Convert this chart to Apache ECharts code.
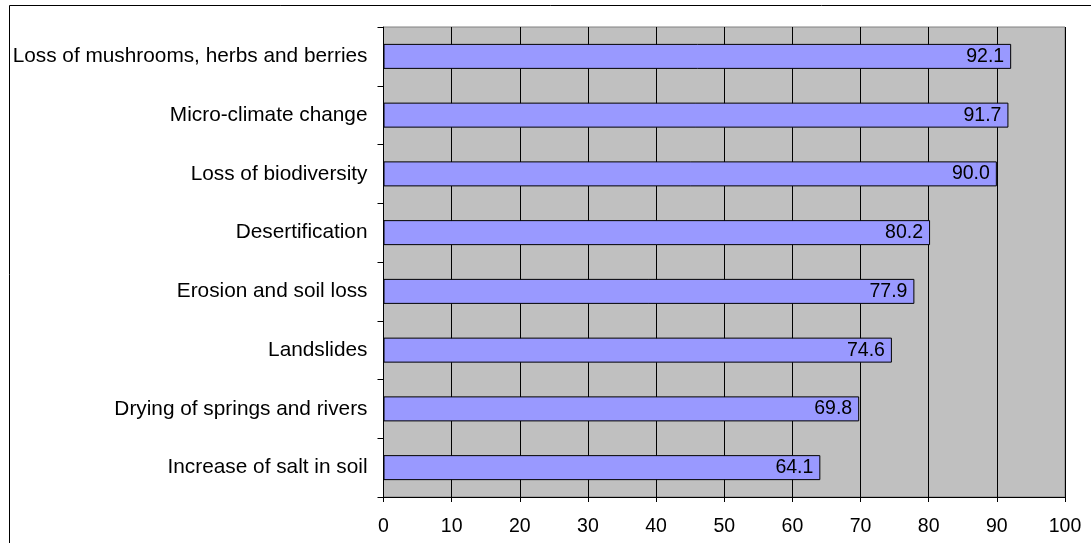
<!DOCTYPE html>
<html>
<head>
<meta charset="utf-8">
<script src="https://cdn.jsdelivr.net/npm/echarts@6/dist/echarts.min.js"></script>
<style>
  html, body { margin: 0; padding: 0; background: #fff; }
  #chart { width: 1091px; height: 543px; }
</style>
</head>
<body>
<div id="chart"></div>
<script>
// Reported environmental effects, percent of respondents
const categories = [
  'Loss of mushrooms, herbs and berries',
  'Micro-climate change',
  'Loss of biodiversity',
  'Desertification',
  'Erosion and soil loss',
  'Landslides',
  'Drying of springs and rivers',
  'Increase of salt in soil'
];
const values = [92.1, 91.7, 90.0, 80.2, 77.9, 74.6, 69.8, 64.1];
const xTicks = [0, 10, 20, 30, 40, 50, 60, 70, 80, 90, 100];

const font = 'Arial, "Liberation Sans", sans-serif';
const chart = echarts.init(document.getElementById('chart'), null, { renderer: 'canvas' });

chart.setOption({
  animation: false,
  backgroundColor: '#ffffff',
  graphic: [{
    type: 'rect',
    shape: { x: 9.5, y: 5.5, width: 1100, height: 600 },
    style: { fill: 'none', stroke: '#000', lineWidth: 1 },
    silent: true
  }],
  grid: {
    left: 383.5, right: 26, top: 27, bottom: 46,
    show: true,
    backgroundColor: '#C0C0C0',
    borderColor: '#808080',
    borderWidth: 1
  },
  xAxis: {
    type: 'value',
    min: xTicks[0],
    max: xTicks[xTicks.length - 1],
    interval: 10,
    axisLine: { show: true, lineStyle: { color: '#000', width: 1 } },
    axisTick: { show: true, length: 5, lineStyle: { color: '#000' } },
    axisLabel: { color: '#000', fontFamily: font, fontSize: 19.5, margin: 20 },
    splitLine: { show: true, lineStyle: { color: '#000', width: 1 } }
  },
  yAxis: {
    type: 'category',
    data: categories,
    inverse: true,
    axisLine: { show: true, lineStyle: { color: '#000', width: 1 } },
    axisTick: { show: true, length: 6, alignWithLabel: false, lineStyle: { color: '#000' } },
    axisLabel: { color: '#000', fontFamily: font, fontSize: 20.8, margin: 16 },
    splitLine: { show: false }
  },
  series: [{
    type: 'bar',
    data: values,
    barWidth: 25,
    itemStyle: { color: '#9999FF', borderColor: '#000', borderWidth: 1 },
    label: {
      show: true,
      position: 'insideRight',
      distance: 7,
      color: '#000',
      fontFamily: font,
      fontSize: 19.5,
      formatter: p => p.value.toFixed(1)
    }
  }]
});
</script>
</body>
</html>
